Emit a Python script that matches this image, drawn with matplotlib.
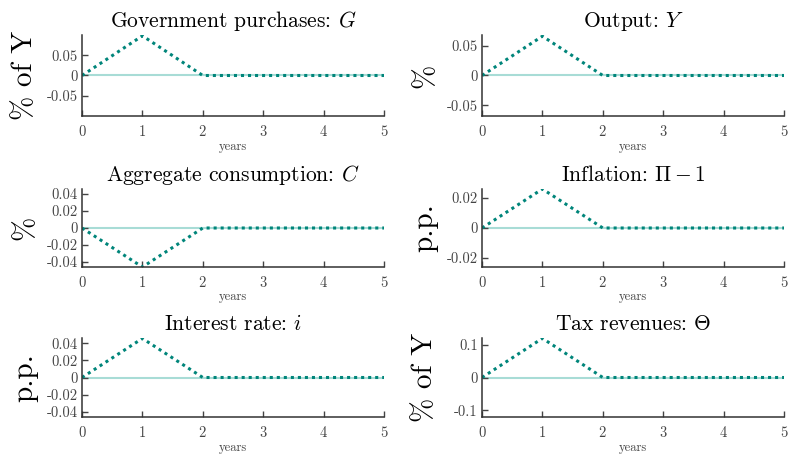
import matplotlib
matplotlib.use("Agg")
import matplotlib.pyplot as plt
import numpy as np

plt.rcParams['font.family'] = 'serif'
plt.rcParams['font.serif'] = ['cmr10']
plt.rcParams['mathtext.fontset'] = 'cm'
plt.rcParams['axes.unicode_minus'] = False
plt.rcParams['axes.formatter.use_mathtext'] = True

# data
years = [0, 1, 2, 3, 4, 5]
gov = [0, 0.098, 0, 0, 0, 0]
output = [0, 0.066, 0, 0, 0, 0]
cons = [0, -0.046, 0, 0, 0, 0]
infl = [0, 0.026, 0, 0, 0, 0]
irate = [0, 0.0455, 0, 0, 0, 0]
tax = [0, 0.12, 0, 0, 0, 0]

titles = [r'Government purchases: $G$', r'Output: $Y$',
          r'Aggregate consumption: $C$', r'Inflation: $\Pi-1$',
          r'Interest rate: $i$', r'Tax revenues: $\Theta$']
ylabels = ['% of Y', '%', '%', 'p.p.', 'p.p.', '% of Y']
series = [gov, output, cons, infl, irate, tax]
ylims = [0.1, 0.068, 0.046, 0.026, 0.046, 0.121]
yticks = [[-0.05, 0, 0.05], [-0.05, 0, 0.05],
          [-0.04, -0.02, 0, 0.02, 0.04], [-0.02, 0, 0.02],
          [-0.04, -0.02, 0, 0.02, 0.04], [-0.1, 0, 0.1]]
ytlabels = [['-0.05', '0', '0.05'], ['-0.05', '0', '0.05'],
            ['-0.04', '-0.02', '0', '0.02', '0.04'], ['-0.02', '0', '0.02'],
            ['-0.04', '-0.02', '0', '0.02', '0.04'], ['-0.1', '0', '0.1']]

W, H = 788, 458
fig = plt.figure(figsize=(W / 100, H / 100), dpi=100)

lefts = [82, 482]
rows = [(35, 116), (189, 267), (338, 417)]
width = 302

teal = '#00857a'
light = '#a8dcd6'
grey = '#444444'

for k in range(6):
    r, c = k // 2, k % 2
    top, bot = rows[r]
    ax = fig.add_axes([lefts[c] / W, 1 - bot / H, width / W, (bot - top) / H])
    ax.plot([0, 5], [0, 0], color=light, lw=1.5, zorder=1)
    ax.plot(years, series[k], color=teal, lw=2.2, linestyle=(0, (1, 1.3)), zorder=2)
    ax.set_xlim(0, 5)
    ax.set_ylim(-ylims[k], ylims[k])
    ax.set_xticks(years)
    ax.set_yticks(yticks[k])
    ax.set_yticklabels(ytlabels[k])
    ax.tick_params(direction='in', length=4, width=1, colors=grey, labelsize=10.5)
    ax.tick_params(axis='x', pad=6)
    ax.tick_params(axis='y', pad=3)
    for s in ['top', 'right']:
        ax.spines[s].set_visible(False)
    for s in ['left', 'bottom']:
        ax.spines[s].set_color('#333333')
        ax.spines[s].set_linewidth(1.1)
    ax.set_title(titles[k], fontsize=15.5, pad=6)
    ax.set_xlabel('years', fontsize=9, color=grey)
    ax.xaxis.set_label_coords(0.5, -0.31)
    ax.set_ylabel(ylabels[k], fontsize=21)
    ax.yaxis.set_label_coords(-0.145, 0.5)

fig.savefig('out.png', dpi=100)
